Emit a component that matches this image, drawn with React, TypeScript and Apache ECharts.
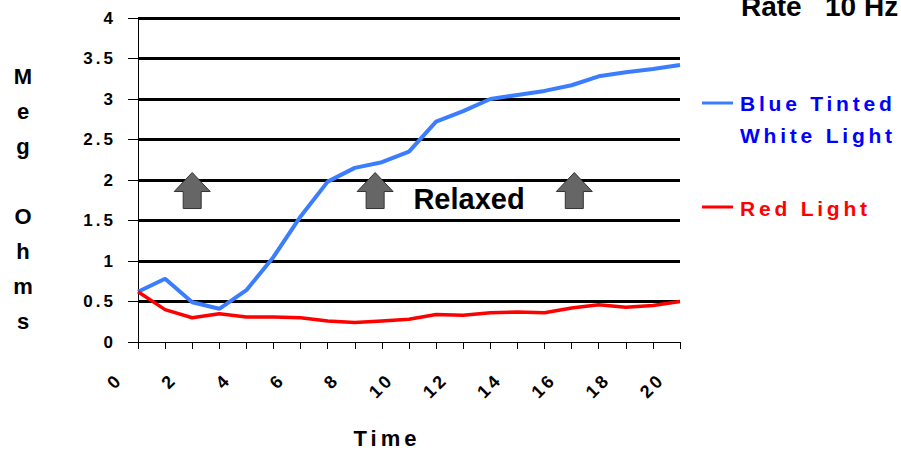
import React, { useEffect, useRef } from "react";
import * as echarts from "echarts";

// ---- data ----
const timeValues = [0, 1, 2, 3, 4, 5, 6, 7, 8, 9, 10, 11, 12, 13, 14, 15, 16, 17, 18, 19, 20];
const blueTinted = [0.62, 0.78, 0.49, 0.41, 0.64, 1.05, 1.55, 1.98, 2.15, 2.22, 2.35, 2.72, 2.85, 3.0, 3.05, 3.1, 3.17, 3.28, 3.33, 3.37, 3.42];
const redLight = [0.62, 0.4, 0.3, 0.35, 0.31, 0.31, 0.3, 0.26, 0.24, 0.26, 0.28, 0.34, 0.33, 0.36, 0.37, 0.36, 0.42, 0.46, 0.43, 0.45, 0.5];
const xTickLabels = ["0", "2", "4", "6", "8", "10", "12", "14", "16", "18", "20"];
const yAxisTitle = ["M", "e", "g", "", "O", "h", "m", "s"];
const xAxisTitle = "Time";
const rateText = "Rate   10 Hz";
const relaxedText = "Relaxed";
const seriesNames = ["Blue Tinted\nWhite Light", "Red Light"];
const arrowX = [2, 8.75, 16.1];
const arrowY = 1.87;

const SPACED = "'Liberation Sans', Helvetica, sans-serif";
const PLAIN = "'Liberation Sans', Arial, sans-serif";
const BLUE = "#3b7dff";
const RED = "#ff0000";

export default function App() {
  const ref = useRef<HTMLDivElement>(null);

  useEffect(() => {
    if (!ref.current) return;
    const chart = echarts.init(ref.current, null, { renderer: "svg" });
    const option: any = {
      animation: false,
      backgroundColor: "#ffffff",
      grid: { left: 138, right: 221, top: 18, bottom: 116, containLabel: false },
      xAxis: {
        type: "value",
        min: 0,
        max: 20,
        interval: 1,
        axisLine: { show: true, onZero: false, lineStyle: { color: "#000", width: 1 } },
        axisTick: { show: true, length: 7, lineStyle: { color: "#000", width: 1 } },
        axisLabel: {
          rotate: 45,
          margin: 16,
          padding: [0, 26, 0, 0],
          fontFamily: SPACED,
          fontWeight: "bold",
          fontSize: 18,
          color: "#000",
          hideOverlap: false,
          showMinLabel: true,
          showMaxLabel: true,
          formatter: (v: number) => (xTickLabels.indexOf(String(v)) >= 0 ? String(v) : ""),
        },
        splitLine: { show: false },
      },
      yAxis: {
        type: "value",
        min: 0,
        max: 4,
        interval: 0.5,
        axisLine: { show: true, lineStyle: { color: "#000", width: 1 } },
        axisTick: { show: true, length: 10, lineStyle: { color: "#000", width: 1 } },
        axisLabel: { margin: 22, fontFamily: SPACED, fontWeight: "bold", fontSize: 17, color: "#000" },
        splitLine: { show: true, showMinLine: false, lineStyle: { color: "#000", width: 3 } },
      },
      series: [
        {
          name: seriesNames[0],
          type: "line",
          data: timeValues.map((t, i) => [t, blueTinted[i]]),
          showSymbol: false,
          symbol: "none",
          lineStyle: { color: BLUE, width: 4 },
          itemStyle: { color: BLUE },
          z: 3,
          markPoint: {
            symbol: "path://M18,0L36,19L27,19L27,36L9,36L9,19L0,19Z",
            symbolSize: [36, 36],
            itemStyle: { color: "#666666", borderColor: "#333333", borderWidth: 1 },
            label: { show: false },
            data: arrowX.map((x) => ({ coord: [x, arrowY] })),
          },
        },
        {
          name: seriesNames[1],
          type: "line",
          data: timeValues.map((t, i) => [t, redLight[i]]),
          showSymbol: false,
          symbol: "none",
          lineStyle: { color: RED, width: 3.5 },
          itemStyle: { color: RED },
          z: 4,
        },
      ],
      graphic: [
        {
          type: "text",
          x: 23,
          y: 58.5,
          style: {
            text: yAxisTitle.join("\n"),
            fontFamily: PLAIN,
            fontWeight: "bold",
            fontSize: 22,
            lineHeight: 35,
            align: "center",
            verticalAlign: "top",
            fill: "#000",
          },
        },
        {
          type: "text",
          x: 387,
          y: 438,
          style: { text: xAxisTitle, fontFamily: SPACED, fontWeight: "bold", fontSize: 22, align: "center", verticalAlign: "middle", fill: "#000" },
        },
        {
          type: "text",
          x: 741,
          y: 6.5,
          style: { text: rateText, fontFamily: PLAIN, fontWeight: "bold", fontSize: 28, align: "left", verticalAlign: "middle", fill: "#000" },
        },
        {
          type: "text",
          x: 469,
          y: 199,
          z: 10,
          style: { text: relaxedText, fontFamily: PLAIN, fontWeight: "bold", fontSize: 29, align: "center", verticalAlign: "middle", fill: "#000" },
        },
        {
          type: "line",
          shape: { x1: 702, y1: 103, x2: 733, y2: 103 },
          style: { stroke: BLUE, lineWidth: 3 },
        },
        {
          type: "text",
          x: 740,
          y: 103,
          style: { text: seriesNames[0].split("\n")[0], fontFamily: SPACED, fontWeight: "bold", fontSize: 21, align: "left", verticalAlign: "middle", fill: "#0000ff" },
        },
        {
          type: "text",
          x: 740,
          y: 135,
          style: { text: seriesNames[0].split("\n")[1], fontFamily: SPACED, fontWeight: "bold", fontSize: 21, align: "left", verticalAlign: "middle", fill: "#0000ff" },
        },
        {
          type: "line",
          shape: { x1: 702, y1: 207, x2: 733, y2: 207 },
          style: { stroke: RED, lineWidth: 3 },
        },
        {
          type: "text",
          x: 740,
          y: 208,
          style: { text: seriesNames[1], fontFamily: SPACED, fontWeight: "bold", fontSize: 21, align: "left", verticalAlign: "middle", fill: "#ff0000" },
        },
      ],
    };
    chart.setOption(option);
    return () => chart.dispose();
  }, []);

  return (
    <>
      <style>{`text[style*="Helvetica"]{letter-spacing:0.18em;}`}</style>
      <div ref={ref} style={{ position: "absolute", left: 0, top: 0, width: 901, height: 458 }} />
    </>
  );
}
